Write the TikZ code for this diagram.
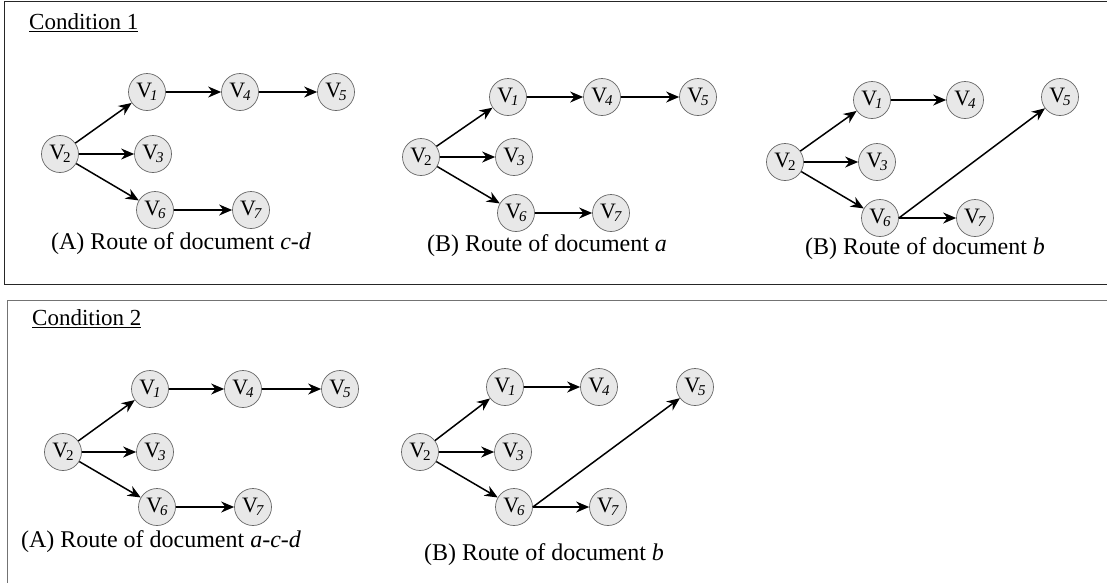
\documentclass[tikz,border=0pt]{standalone}
\usepackage{fontspec}
\setmainfont{Liberation Serif}
\usetikzlibrary{arrows.meta}

% vertex label: upright V with a small italic index tucked under it
\newcommand{\vtx}[1]{V\kern-0.1em\raisebox{-0.32ex}{\fontsize{15}{15}\selectfont\textit{#1}}}
\newcommand{\vtxup}[1]{V\kern-0.1em\raisebox{-0.32ex}{\fontsize{15}{15}\selectfont #1}}

\begin{document}
\begin{tikzpicture}[x=1pt,y=-1pt,
  vnode/.style={circle,draw=black!60,fill=black!9,line width=0.7pt,
    minimum size=37pt,inner sep=0pt,font=\fontsize{22}{22}\selectfont},
  edge/.style={line width=1.5pt,-{Stealth[length=13pt,width=11pt]}},
  caption/.style={font=\fontsize{24}{28}\selectfont,inner sep=0pt},
  heading/.style={font=\fontsize{23}{27}\selectfont,inner sep=0pt,anchor=west},
  frameA/.style={line width=0.9pt,draw=black!85},
  frameB/.style={line width=0.9pt,draw=black!55}]

\useasboundingbox (0,0) rectangle (1107,582);

% ---------- frames ----------
\draw[frameA] (1108,1) -- (4,1) -- (4,284) -- (1108,284);
\draw[frameB] (1108,300) -- (7,300) -- (7,583);

% ---------- Condition 1 ----------
\node[heading] (h1) at (29,23) {\underline{Condition 1}};

% (A) route of document c-d
\node[vnode] (a2) at (60,154) {\vtxup{2}};
\node[vnode] (a1) at (147,92) {\vtx{1}};
\node[vnode] (a4) at (240,92) {\vtx{4}};
\node[vnode] (a5) at (336,92) {\vtx{5}};
\node[vnode] (a3) at (153,154) {\vtx{3}};
\node[vnode] (a6) at (155,210) {\vtx{6}};
\node[vnode] (a7) at (251,210) {\vtx{7}};
\draw[edge] (a2) -- (a1);
\draw[edge] (a2) -- (a3);
\draw[edge] (a2) -- (a6);
\draw[edge] (a1) -- (a4);
\draw[edge] (a4) -- (a5);
\draw[edge] (a6) -- (a7);
\node[caption] (capa) at (181,244) {(A) Route of document \textit{c-d}};

% (B) route of document a
\node[vnode] (b2) at (421,157) {\vtxup{2}};
\node[vnode] (b1) at (508,97) {\vtx{1}};
\node[vnode] (b4) at (602,97) {\vtx{4}};
\node[vnode] (b5) at (698,97) {\vtx{5}};
\node[vnode] (b3) at (514,157) {\vtx{3}};
\node[vnode] (b6) at (516,213) {\vtx{6}};
\node[vnode] (b7) at (611,213) {\vtx{7}};
\draw[edge] (b2) -- (b1);
\draw[edge] (b2) -- (b3);
\draw[edge] (b2) -- (b6);
\draw[edge] (b1) -- (b4);
\draw[edge] (b4) -- (b5);
\draw[edge] (b6) -- (b7);
\node[caption] (capb) at (547,246) {(B) Route of document \textit{a}};

% (B) route of document b
\node[vnode] (c2) at (785,162) {\vtxup{2}};
\node[vnode] (c1) at (872,100) {\vtx{1}};
\node[vnode] (c4) at (965,100) {\vtx{4}};
\node[vnode] (c5) at (1060,97) {\vtx{5}};
\node[vnode] (c3) at (877,162) {\vtx{3}};
\node[vnode] (c6) at (880,218) {\vtx{6}};
\node[vnode] (c7) at (975,218) {\vtx{7}};
\draw[edge] (c2) -- (c1);
\draw[edge] (c2) -- (c3);
\draw[edge] (c2) -- (c6);
\draw[edge] (c1) -- (c4);
\draw[edge] (c6.east) -- (c5);
\draw[edge] (c6) -- (c7);
\node[caption] (capc) at (925,249) {(B) Route of document \textit{b}};

% ---------- Condition 2 ----------
\node[heading] (h2) at (32,319) {\underline{Condition 2}};

% (A) route of document a-c-d
\node[vnode] (d2) at (63,452) {\vtxup{2}};
\node[vnode] (d1) at (150,389) {\vtx{1}};
\node[vnode] (d4) at (243,389) {\vtx{4}};
\node[vnode] (d5) at (340,389) {\vtx{5}};
\node[vnode] (d3) at (155,452) {\vtx{3}};
\node[vnode] (d6) at (157,507) {\vtx{6}};
\node[vnode] (d7) at (253,507) {\vtx{7}};
\draw[edge] (d2) -- (d1);
\draw[edge] (d2) -- (d3);
\draw[edge] (d2) -- (d6);
\draw[edge] (d1) -- (d4);
\draw[edge] (d4) -- (d5);
\draw[edge] (d6) -- (d7);
\node[caption] (capd) at (161,542) {(A) Route of document \textit{a-c-d}};

% (B) route of document b
\node[vnode] (e2) at (420,452) {\vtxup{2}};
\node[vnode] (e1) at (505,387) {\vtx{1}};
\node[vnode] (e4) at (599,387) {\vtx{4}};
\node[vnode] (e5) at (695,387) {\vtx{5}};
\node[vnode] (e3) at (513,452) {\vtx{3}};
\node[vnode] (e6) at (514,507) {\vtx{6}};
\node[vnode] (e7) at (608,507) {\vtx{7}};
\draw[edge] (e2) -- (e1);
\draw[edge] (e2) -- (e3);
\draw[edge] (e2) -- (e6);
\draw[edge] (e1) -- (e4);
\draw[edge] (e6.east) -- (e5);
\draw[edge] (e6) -- (e7);
\node[caption] (cape) at (544,555) {(B) Route of document \textit{b}};

\end{tikzpicture}
\end{document}
